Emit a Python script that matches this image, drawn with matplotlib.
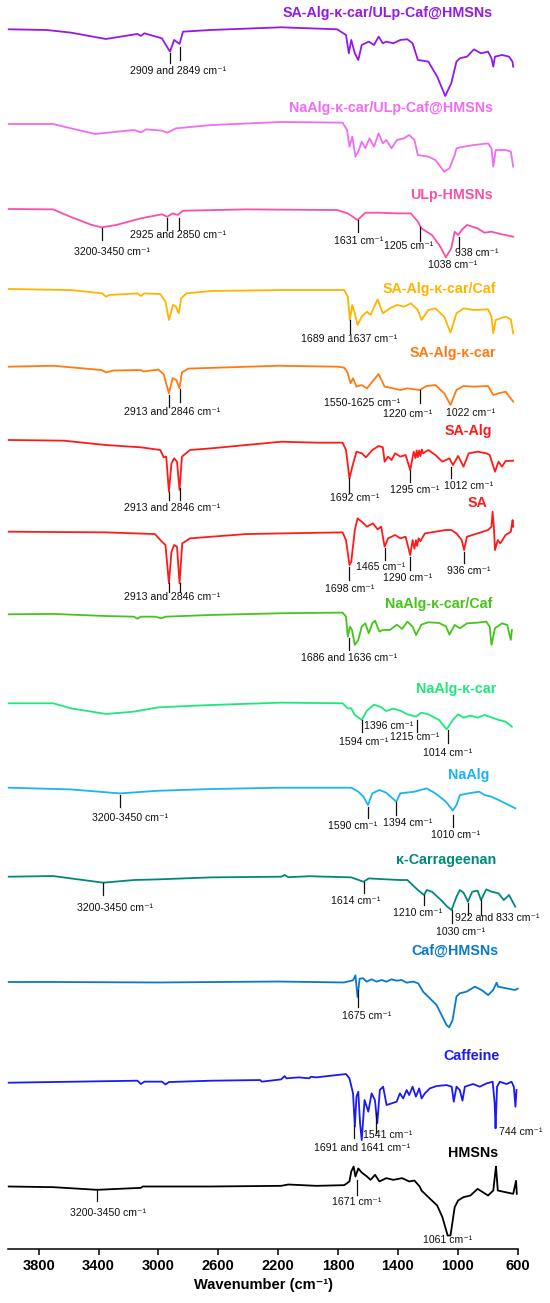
import matplotlib
matplotlib.use('Agg')
import matplotlib.pyplot as plt

plt.rcParams['font.family'] = ['Liberation Sans', 'DejaVu Sans']

CM = ' cm\u207b\u00b9'

# FTIR spectra: wavenumber (cm-1) and relative transmittance (a.u., 0 = level at 4000 cm-1)
wn_sa_alg_car_ulp = [4000, 3749, 3585, 3351, 3140, 3117, 3094, 2977, 2923, 2895, 2859, 2836, 2649, 2180, 1806,
                     1747, 1728, 1712, 1688, 1665, 1642, 1595, 1560, 1529, 1501, 1478, 1431, 1384, 1337, 1302,
                     1267, 1197, 1138, 1084, 1044, 1009, 986, 939, 892, 845, 798, 775, 763, 752, 705, 658, 635, 630]
t_sa_alg_car_ulp = [0, -0.7, -3.5, -10.2, -4.9, -7.0, -4.2, -9.5, -23.5, -11.2, -15.4, -2.5, -0.7, 2.1, 0,
                    -6.0, -25.3, -11.2, -25.3, -32.3, -16.5, -13.0, -16.5, -7.7, -14.7, -13.0, -14.7, -11.2, -10.5, -14.7,
                    -32.3, -34.0, -49.8, -70.2, -56.8, -34.0, -30.5, -28.8, -21.1, -25.3, -23.5, -30.5, -39.3, -28.8, -27.0, -28.8, -34.0, -39.3]

wn_naalg_car_ulp = [4000, 3703, 3632, 3422, 3164, 3117, 3082, 2977, 2941, 2883, 2649, 2180, 1770, 1740, 1724,
                    1705, 1684, 1665, 1642, 1618, 1590, 1560, 1529, 1501, 1478, 1443, 1407, 1360, 1325, 1290,
                    1267, 1197, 1150, 1091, 1056, 1021, 1009, 962, 892, 798, 775, 763, 747, 681, 646, 630]
t_naalg_car_ulp = [0, 0, -2.8, -10.5, -6.3, -8.8, -5.6, -7.0, -9.1, -4.6, -1.1, 2.1, 1.4, -6.3, -23.9,
                   -13.3, -34.4, -29.1, -18.6, -25.6, -15.1, -23.9, -9.8, -20.4, -16.8, -25.6, -16.8, -15.1, -11.6, -16.8,
                   -32.6, -34.4, -37.9, -50.2, -46.7, -32.6, -25.6, -23.9, -22.1, -20.4, -25.6, -44.9, -27.4, -27.4, -29.1, -44.9]

wn_ulp_hmsns = [4000, 3703, 3585, 3445, 3379, 3281, 3117, 2977, 2941, 2906, 2871, 2836, 2414, 1806, 1735,
                1670, 1618, 1524, 1407, 1314, 1267, 1243, 1173, 1117, 1080, 1044, 1021, 998, 974, 939,
                868, 822, 775, 705, 630]
t_ulp_hmsns = [0, -0.4, -8.4, -16.8, -19.3, -16.8, -9.8, -5.6, -8.1, -4.6, -6.3, -1.8, -0.4, -1.1, -4.6,
               -11.6, -3.9, -3.9, -4.6, -4.6, -13.3, -20.4, -27.4, -39.6, -50.9, -41.4, -23.9, -27.4, -22.1, -16.8,
               -20.4, -24.9, -23.9, -26.7, -29.1]

wn_sa_alg_car_caf = [4000, 3585, 3375, 3351, 3328, 3140, 3117, 3094, 2988, 2953, 2930, 2902, 2883, 2864, 2848,
                     2813, 2649, 2180, 1759, 1735, 1721, 1705, 1688, 1670, 1642, 1607, 1583, 1536, 1501, 1454,
                     1407, 1360, 1314, 1267, 1243, 1197, 1150, 1091, 1049, 1009, 962, 892, 798, 775, 763,
                     747, 681, 646, 630]
t_sa_alg_car_caf = [0, -1.1, -4.6, -8.1, -6.3, -4.6, -7.4, -4.6, -5.3, -13.3, -32.6, -16.8, -18.6, -25.6, -9.8,
                    -4.6, -2.1, -1.1, -1.1, -8.1, -32.6, -16.8, -25.6, -37.9, -29.1, -23.9, -27.4, -10.9, -25.6, -20.4,
                    -16.8, -18.6, -15.1, -22.1, -32.6, -22.1, -20.4, -29.1, -46.0, -25.6, -20.4, -22.1, -21.4, -29.1, -46.7,
                    -32.6, -29.1, -31.9, -46.7]

wn_sa_alg_car = [4000, 3703, 3380, 3350, 3300, 3120, 3100, 3000, 2965, 2930, 2905, 2880, 2860, 2843, 2800,
                 2400, 2200, 1800, 1760, 1747, 1735, 1717, 1700, 1677, 1642, 1607, 1571, 1529, 1489, 1431,
                 1384, 1337, 1290, 1255, 1208, 1150, 1091, 1049, 1009, 962, 892, 798, 763, 728, 681, 630]
t_sa_alg_car = [0, 1, -3.5, -6, -4, -3.5, -5, -3, -8, -28, -12, -14, -22.7, -6, -2,
                0, 1, 0, -1, -3.5, -7.0, -17.5, -12.2, -21.0, -19.3, -22.8, -15.8, -7.7, -21.0, -22.8,
                -24.5, -22.8, -23.8, -24.5, -20.3, -19.3, -28.0, -40.3, -24.5, -20.3, -21.0, -20.3, -29.8, -28.0, -26.3, -36.8]

wn_sa_alg = [4000, 3632, 3351, 3117, 2988, 2965, 2948, 2930, 2913, 2895, 2876, 2859, 2843, 2789, 2649,
             2414, 2180, 1946, 1770, 1747, 1724, 1705, 1677, 1642, 1614, 1571, 1529, 1501, 1489, 1466,
             1443, 1419, 1384, 1349, 1318, 1295, 1283, 1275, 1267, 1258, 1250, 1240, 1232, 1197, 1150,
             1103, 1056, 1033, 998, 962, 927, 868, 810, 787, 752, 728, 705, 681, 630]
t_sa_alg = [0, -0.7, -5.3, -7.7, -10.5, -18.2, -17.5, -54.4, -24.6, -19.3, -22.8, -52.6, -17.5, -10.5, -8.8,
            -5.3, -1.8, -2.8, -2.8, -10.5, -40.4, -28.1, -12.3, -14.0, -18.2, -10.5, -6.3, -7.7, -22.8, -17.5,
            -21.1, -14.0, -17.5, -15.8, -31.6, -12.3, -19.0, -11.0, -18.0, -11.0, -17.0, -10.0, -14.0, -10.5, -15.8,
            -22.8, -19.3, -26.3, -16.8, -28.1, -14.0, -12.3, -14.0, -15.8, -33.3, -22.8, -28.1, -22.1, -21.8]

wn_sa = [4000, 3351, 3023, 2977, 2953, 2930, 2913, 2895, 2876, 2859, 2841, 2789, 2649, 2414, 2180,
         1770, 1747, 1724, 1712, 1688, 1670, 1642, 1607, 1567, 1536, 1512, 1489, 1466, 1419, 1384,
         1349, 1318, 1302, 1290, 1280, 1272, 1262, 1250, 1220, 1150, 1080, 1044, 1009, 974, 958,
         939, 868, 798, 775, 768, 759, 752, 733, 716, 681, 646, 634, 630]
t_sa = [0, -0.7, -2.5, -10.5, -14.0, -54.4, -21.1, -14.0, -15.8, -54.4, -12.3, -7.0, -5.3, -2.5, -1.8,
        -0.7, -8.8, -35.1, -31.6, 1.8, 14.0, 10.5, 5.3, 8.8, 2.5, 5.3, -15.8, -7.0, -3.5, -7.0,
        -5.3, -24.6, -8.8, -18.0, -9.0, -15.0, -7.0, -10.0, -1.8, 0, 1.8, 1.8, -1.8, -8.8, -19.3,
        -5.3, -1.8, 1.8, 5.3, 21.1, 5.3, -19.3, -8.8, -12.3, -3.5, 0, 12.3, 5.3]

wn_naalg_car_caf = [4000, 3703, 3351, 3164, 3140, 3117, 3023, 2981, 2953, 2649, 2180, 1770, 1747, 1735, 1721,
                    1707, 1688, 1665, 1642, 1618, 1595, 1571, 1553, 1524, 1501, 1454, 1407, 1372, 1337, 1302,
                    1279, 1243, 1197, 1126, 1080, 1056, 1021, 986, 939, 868, 810, 787, 775, 752, 705,
                    670, 646, 639]
t_naalg_car_caf = [0, 0.4, -1.8, -2.5, -4.6, -2.5, -2.5, -4.2, -2.5, -0.7, 1.1, 1.8, -2.5, -23.5, -13.0,
                   -16.5, -32.3, -27.0, -13.0, -9.5, -20.0, -9.5, -6.7, -18.2, -16.5, -16.5, -10.9, -15.4, -7.7, -13.0,
                   -21.8, -10.9, -8.4, -9.1, -12.6, -21.4, -11.2, -14.7, -9.5, -8.8, -7.7, -13.0, -32.3, -14.7, -9.5,
                   -11.2, -27.0, -16.5]

wn_naalg_car = [4000, 3703, 3585, 3351, 3164, 3000, 2649, 2180, 1770, 1735, 1712, 1688, 1642, 1607, 1560,
                1512, 1478, 1431, 1384, 1337, 1279, 1243, 1197, 1126, 1075, 1033, 998, 962, 916, 868,
                822, 728, 681, 639]
t_naalg_car = [0, 0, -5.3, -11.2, -8.8, -4.2, -1.8, 0.7, 0, -5.3, -5.3, -12.3, -17.5, -7.7, -1.4,
               -4.2, -8.1, -5.6, -7.7, -11.6, -14.0, -9.8, -11.6, -17.5, -27.4, -17.5, -11.6, -15.1, -13.0, -15.1,
               -12.3, -17.5, -19.3, -24.6]

wn_naalg = [4000, 3585, 3258, 3000, 2649, 2180, 1712, 1665, 1630, 1600, 1571, 1524, 1478, 1411, 1384,
            1290, 1208, 1150, 1080, 1033, 1009, 986, 927, 857, 822, 775, 705, 616]
t_naalg = [0, -1.8, -6.0, -3.2, -1.4, 0, 0, -4.2, -9.5, -18.2, -5.9, -2.4, -5.3, -14.7, -5.9,
           -4.2, -0.7, -5.9, -14.7, -24.0, -18.2, -7.7, -5.9, -4.2, -7.7, -9.5, -14.7, -21.7]

wn_kcar = [4000, 3703, 3585, 3368, 3164, 3000, 2649, 2180, 2157, 2133, 1993, 1712, 1630, 1595, 1478,
           1384, 1337, 1302, 1267, 1225, 1208, 1173, 1117, 1070, 1042, 1009, 986, 962, 932, 904,
           868, 845, 810, 775, 728, 693, 658, 616]
t_kcar = [0, 0.7, -1.8, -6.3, -3.5, -2.8, -0.7, 0, 1.8, -0.5, 0.5, -0.7, -5.3, -1.8, -2.8,
          -3.5, -3.5, -8.8, -14.0, -19.3, -14.0, -15.8, -23.9, -31.6, -35.1, -21.1, -14.0, -16.8, -26.3, -15.8,
          -14.7, -24.6, -13.3, -15.8, -17.5, -24.6, -19.3, -31.6]

wn_caf_hmsns = [4000, 3700, 3000, 2200, 1760, 1700, 1684, 1670, 1656, 1632, 1610, 1576, 1543, 1509, 1476,
                1443, 1409, 1376, 1342, 1298, 1265, 1232, 1187, 1142, 1109, 1075, 1058, 1035, 1009, 987,
                942, 886, 842, 797, 764, 741, 731, 675, 619, 600]
t_caf_hmsns = [0, 0, -0.5, 0.5, -0.5, 1.8, 7.0, -15.8, 3.5, 3.9, 0.4, 2.8, 0.4, 2.1, 0.4,
               2.8, 1.4, 2.1, -0.7, 0.4, -1.4, -10.2, -17.2, -24.2, -34.7, -45.3, -47.7, -40.0, -15.4, -11.9,
               -10.2, -4.9, -8.4, -13.7, -8.4, -0.7, -4.9, -6.7, -8.4, -7.0]

wn_caffeine = [4000, 3140, 3117, 3094, 2977, 2953, 2930, 2649, 2321, 2309, 2180, 2157, 2145, 2063, 1993,
               1981, 1946, 1806, 1747, 1724, 1700, 1688, 1677, 1665, 1653, 1642, 1623, 1598, 1576, 1554,
               1538, 1521, 1499, 1476, 1443, 1409, 1387, 1365, 1342, 1325, 1302, 1280, 1258, 1242, 1220,
               1187, 1142, 1075, 1041, 1027, 1009, 987, 969, 953, 898, 853, 808, 767, 754, 748,
               738, 719, 675, 641, 626, 615, 608]
t_caffeine = [0, 2.1, -1.4, 1.1, 1.1, -1.8, 0.7, 2.1, 2.8, 1.1, 3.5, 7.0, 4.6, 5.6, 4.6,
              6.3, 5.6, 8.1, 9.1, 4.6, -11.2, -46.3, -14.7, -9.5, -42.8, -60.4, -18.2, -30.5, -11.2, -18.2,
              -42.7, -7.7, -4.2, -23.5, -21.8, -20.0, -11.2, -16.5, -7.7, -13.0, -4.2, -14.7, -6.0, -16.5, -11.2,
              -6.0, -3.5, -2.5, -4.2, -20.0, -4.2, -7.7, -18.9, -4.2, -1.4, -4.2, -0.7, 1.0, -21.8, -48.0,
              -4.2, 1.0, -1.4, 1.0, -4.2, -25.3, -7.7]

wn_hmsns = [4000, 3703, 3410, 3117, 3105, 2649, 2180, 2133, 1946, 1759, 1724, 1712, 1696, 1684, 1665,
            1642, 1607, 1583, 1553, 1524, 1478, 1431, 1372, 1325, 1290, 1255, 1243, 1185, 1138, 1103,
            1068, 1049, 1021, 998, 962, 916, 868, 798, 763, 752, 745, 733, 681, 630, 611, 606]
t_hmsns = [0, -0.7, -3.5, -1.4, 0, 0, 0.7, 2.1, 0.7, 1.4, 5.3, 15.8, 21.0, 10.5, 19.0,
           14.7, 10.5, 7.0, 12.3, 5.3, 8.8, 7.0, 8.8, 5.3, 6.3, 0, -4.2, -13.0, -20.0, -32.3,
           -51.6, -51.6, -21.8, -14.7, -11.2, -9.5, -2.5, -9.5, -4.2, 11.6, 21.0, -4.2, -6.0, -7.7, 6.0, -7.7]

names = ['SA-Alg-\u03ba-car/ULp-Caf@HMSNs', 'NaAlg-\u03ba-car/ULp-Caf@HMSNs', 'ULp-HMSNs',
         'SA-Alg-\u03ba-car/Caf', 'SA-Alg-\u03ba-car', 'SA-Alg', 'SA', 'NaAlg-\u03ba-car/Caf',
         'NaAlg-\u03ba-car', 'NaAlg', '\u03ba-Carrageenan', 'Caf@HMSNs', 'Caffeine', 'HMSNs']
spectra = [(wn_sa_alg_car_ulp, t_sa_alg_car_ulp), (wn_naalg_car_ulp, t_naalg_car_ulp),
           (wn_ulp_hmsns, t_ulp_hmsns), (wn_sa_alg_car_caf, t_sa_alg_car_caf),
           (wn_sa_alg_car, t_sa_alg_car), (wn_sa_alg, t_sa_alg), (wn_sa, t_sa),
           (wn_naalg_car_caf, t_naalg_car_caf), (wn_naalg_car, t_naalg_car), (wn_naalg, t_naalg),
           (wn_kcar, t_kcar), (wn_caf_hmsns, t_caf_hmsns), (wn_caffeine, t_caffeine), (wn_hmsns, t_hmsns)]
colors = ['#9418E8', '#F06CF0', '#FA4FA6', '#FFB400', '#FF7A12', '#FF1A1A', '#FF1A1A', '#47C41A',
          '#1FE87A', '#1AB4F0', '#00897A', '#0A78CC', '#1A1AF2', '#000000']

# peak marks per spectrum: (wavenumber, top px, bottom px)
marks = {
    0: [(2923, 53, 63), (2857, 47, 60)],
    2: [(3379, 228, 240), (2941, 218, 230), (2864, 218, 230), (1670, 220, 232), (1250, 227, 241), (993, 237, 248)],
    3: [(1717, 320, 333)],
    4: [(2930, 395, 407), (2859, 389, 402), (1255, 390, 403)],
    5: [(2930, 492, 500), (2859, 488, 500), (1724, 478, 493), (1318, 470, 482), (1044, 467, 478)],
    6: [(2930, 583, 592), (2859, 583, 592), (1724, 567, 580), (1489, 548, 560), (1318, 557, 570), (958, 552, 563)],
    7: [(1728, 638, 650)],
    8: [(1642, 720, 732), (1272, 720, 732), (1068, 730, 743)],
    9: [(3258, 795, 807), (1600, 807, 818), (1412, 802, 815), (1033, 815, 827)],
    10: [(3368, 883, 895), (1630, 882, 893), (1225, 895, 905), (1040, 910, 923), (932, 903, 915), (845, 900, 915)],
    11: [(1670, 990, 1007)],
    12: [(1696, 1125, 1138), (1547, 1113, 1133)],
    13: [(3410, 1189, 1201), (1672, 1180, 1195)],
}

# peak labels per spectrum: (text, wavenumber, px, alignment)
labels = {
    0: [('2909 and 2849' + CM, 2871, 70.7, 'center')],
    2: [('3200-3450' + CM, 3309, 251.7, 'center'), ('2925 and 2850' + CM, 2871, 235, 'center'),
        ('1631' + CM, 1665, 240.7, 'center'), ('1205' + CM, 1330, 246, 'center'),
        ('938' + CM, 873, 252.7, 'center'), ('1038' + CM, 1033, 265, 'center')],
    3: [('1689 and 1637' + CM, 1728, 339.3, 'center')],
    4: [('2913 and 2846' + CM, 2906, 411.7, 'center'), ('1550-1625' + CM, 1642, 403.3, 'center'),
        ('1220' + CM, 1337, 414.3, 'center'), ('1022' + CM, 916, 412.7, 'center')],
    5: [('2913 and 2846' + CM, 2906, 508.3, 'center'), ('1692' + CM, 1688, 498.3, 'center'),
        ('1295' + CM, 1290, 490, 'center'), ('1012' + CM, 927, 486, 'center')],
    6: [('2913 and 2846' + CM, 2906, 597.3, 'center'), ('1698' + CM, 1724, 588.5, 'center'),
        ('1465' + CM, 1513, 567, 'center'), ('1290' + CM, 1337, 578, 'center'),
        ('936' + CM, 927, 571, 'center')],
    7: [('1686 and 1636' + CM, 1728, 658.3, 'center')],
    8: [('1594' + CM, 1630, 741.7, 'center'), ('1396' + CM, 1460, 726, 'center'),
        ('1215' + CM, 1290, 736.7, 'center'), ('1014' + CM, 1068, 752.7, 'center')],
    9: [('3200-3450' + CM, 3187, 818.3, 'center'), ('1590' + CM, 1700, 826, 'center'),
        ('1394' + CM, 1337, 823.3, 'center'), ('1010' + CM, 1014, 835, 'center')],
    10: [('3200-3450' + CM, 3293, 907.7, 'center'), ('1614' + CM, 1684, 900.7, 'center'),
         ('1210' + CM, 1267, 913.3, 'center'), ('1030' + CM, 981, 932.3, 'center'),
         ('922 and 833' + CM, 1020, 918.3, 'left')],
    11: [('1675' + CM, 1611, 1016, 'center')],
    12: [('1691 and 1641' + CM, 1642, 1148.3, 'center'), ('1541' + CM, 1466, 1135, 'center'),
         ('744' + CM, 723, 1131.7, 'left')],
    13: [('3200-3450' + CM, 3340, 1213.3, 'center'), ('1671' + CM, 1677, 1201.7, 'center'),
         ('1061' + CM, 1068, 1240, 'center')],
}

# layout, in pixels from the top of the figure
W, H = 550, 1303
AX_LEFT, AX_RIGHT, AX_BOTTOM = 8.3, 517.7, 1249
UNIT = 0.95  # pixels per a.u.
base_px = [29.3, 124, 209, 289, 366.7, 440, 531.7, 614.3, 703.3, 787.7, 876.7, 982, 1082.7, 1186.5]
name_px = [12.7, 108.3, 195, 289.3, 352.7, 431, 503.3, 604, 689.3, 775, 860, 950.7, 1056, 1153.3]
name_wn = [766, 766, 766, 747, 743, 771, 802, 766, 743, 790, 743, 731, 724, 731]


def py(px):
    return (AX_BOTTOM - px) / UNIT


fig = plt.figure(figsize=(W / 100, H / 100), dpi=100)
ax = fig.add_axes([AX_LEFT / W, 1 - AX_BOTTOM / H, (AX_RIGHT - AX_LEFT) / W, AX_BOTTOM / H])

for i, (wn, t) in enumerate(spectra):
    off = py(base_px[i])
    ax.plot(wn, [off + v for v in t], color=colors[i], lw=1.3, clip_on=False, zorder=3)
    ax.text(name_wn[i], py(name_px[i]), names[i], color=colors[i], fontsize=10.3,
            fontweight='bold', ha='right', va='center')
    for w, top, bot in marks.get(i, []):
        ax.plot([w, w], [py(top), py(bot)], color='#111111', lw=0.9, zorder=4)
    for txt, w, p, ha in labels.get(i, []):
        ax.text(w, py(p), txt, fontsize=7.6, ha=ha, va='center', color='#111111')

ax.set_xlim(4003, 600)
ax.set_ylim(0, AX_BOTTOM / UNIT)
ax.set_xticks([3800, 3400, 3000, 2600, 2200, 1800, 1400, 1000, 600])
for s in ['left', 'right', 'top']:
    ax.spines[s].set_visible(False)
ax.spines['bottom'].set_linewidth(1.1)
ax.set_yticks([])
ax.tick_params(axis='x', direction='out', length=4, width=1.1, pad=3, labelsize=10.5)
for lab in ax.get_xticklabels():
    lab.set_fontweight('bold')
ax.set_xlabel('Wavenumber (cm\u207b\u00b9)', fontsize=10.5, fontweight='bold', labelpad=4)
ax.patch.set_visible(False)

fig.savefig('out.png', dpi=100)
